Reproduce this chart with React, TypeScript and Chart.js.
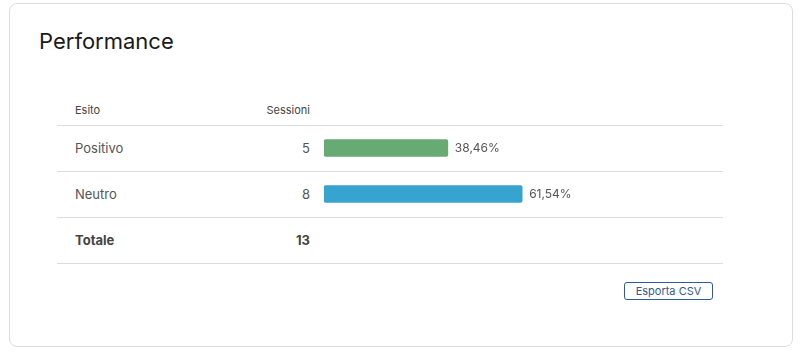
import React, { useEffect, useRef } from "react";
import { Chart, registerables } from "chart.js";

Chart.register(...registerables);

const title = "Performance";
const headerLabels = ["Esito", "Sessioni"];
const categories = ["Positivo", "Neutro"];
const sessions = [5, 8];
const percents = [38.46, 61.54];
const percentLabels = ["38,46%", "61,54%"];
const totalLabel = "Totale";
const totalValue = 13;
const barColors = ["#68aa73", "#36a4ce"];
const buttonLabel = "Esporta CSV";

const FONT = "Inter, 'Noto Sans', sans-serif";

const labelPlugin = {
  id: "pctLabels",
  afterDatasetsDraw(chart: any) {
    const ctx = chart.ctx;
    const meta = chart.getDatasetMeta(0);
    ctx.save();
    ctx.font = `12px ${FONT}`;
    ctx.fillStyle = "#555";
    ctx.textBaseline = "middle";
    ctx.textAlign = "left";
    meta.data.forEach((bar: any, i: number) => {
      ctx.fillText(percentLabels[i], bar.x + 7, bar.y);
    });
    ctx.restore();
  },
};

function BarChart() {
  const ref = useRef<HTMLCanvasElement | null>(null);
  useEffect(() => {
    if (!ref.current) return;
    const chart = new Chart(ref.current, {
      type: "bar",
      data: {
        labels: categories,
        datasets: [
          {
            data: percents,
            backgroundColor: barColors,
            barThickness: 17,
            borderRadius: 2,
            borderSkipped: false,
          },
        ],
      },
      options: {
        indexAxis: "y",
        responsive: false,
        maintainAspectRatio: false,
        animation: false,
        layout: { padding: { left: 0, right: 77, top: 0, bottom: 0 } },
        plugins: { legend: { display: false }, tooltip: { enabled: false } },
        scales: {
          x: { display: false, min: 0, max: 100 },
          y: { display: false, offset: true },
        },
      },
      plugins: [labelPlugin],
    });
    return () => chart.destroy();
  }, []);
  return (
    <canvas
      ref={ref}
      width={399}
      height={92}
      style={{ position: "absolute", left: 324, top: 125, width: 399, height: 92 }}
    />
  );
}

export default function App() {
  const rowTops = [125, 171];
  const line = (top: number) => (
    <div
      key={"l" + top}
      style={{ position: "absolute", left: 57, top, width: 666, height: 1, background: "#dcdcdc" }}
    />
  );
  const cellText = (
    text: string | number,
    centerY: number,
    opts: { left?: number; right?: number; size: number; color: string; bold?: boolean }
  ) => (
    <div
      style={{
        position: "absolute",
        top: centerY - 10,
        height: 20,
        lineHeight: "20px",
        left: opts.left,
        width: opts.right !== undefined ? 200 : undefined,
        ...(opts.right !== undefined ? { left: opts.right - 200, textAlign: "right" as const } : {}),
        fontSize: opts.size,
        color: opts.color,
        fontWeight: opts.bold ? 700 : 400,
        whiteSpace: "nowrap",
      }}
    >
      {text}
    </div>
  );
  return (
    <div
      style={{
        position: "fixed",
        left: 0,
        top: 0,
        width: 802,
        height: 356,
        background: "#fff",
        fontFamily: FONT,
        overflow: "hidden",
      }}
    >
      <div
        style={{
          position: "absolute",
          left: 9,
          top: 3,
          width: 782,
          height: 342,
          border: "1px solid #dddddd",
          borderRadius: 8,
        }}
      />
      <div
        style={{
          position: "absolute",
          left: 39,
          top: 27,
          fontSize: 22,
          lineHeight: "28px",
          color: "#1a1a1a",
        }}
      >
        {title}
      </div>
      {cellText(headerLabels[0], 110, { left: 75, size: 11, color: "#444" })}
      {cellText(headerLabels[1], 110, { right: 310, size: 11, color: "#444" })}
      {line(125)}
      {categories.map((c, i) => (
        <React.Fragment key={c}>
          {cellText(c, rowTops[i] + 23, { left: 75, size: 13, color: "#555" })}
          {cellText(sessions[i], rowTops[i] + 23, { right: 310, size: 13, color: "#555" })}
          {line(rowTops[i] + 46)}
        </React.Fragment>
      ))}
      {cellText(totalLabel, 240, { left: 75, size: 13, color: "#444", bold: true })}
      {cellText(totalValue, 240, { right: 310, size: 13, color: "#444", bold: true })}
      {line(263)}
      <BarChart />
      <div
        style={{
          position: "absolute",
          left: 624,
          top: 282,
          width: 87,
          height: 16,
          border: "1px solid #2d5c98",
          borderRadius: 3,
          fontSize: 11,
          lineHeight: "16px",
          textAlign: "center",
          color: "#345a8c",
        }}
      >
        {buttonLabel}
      </div>
    </div>
  );
}
